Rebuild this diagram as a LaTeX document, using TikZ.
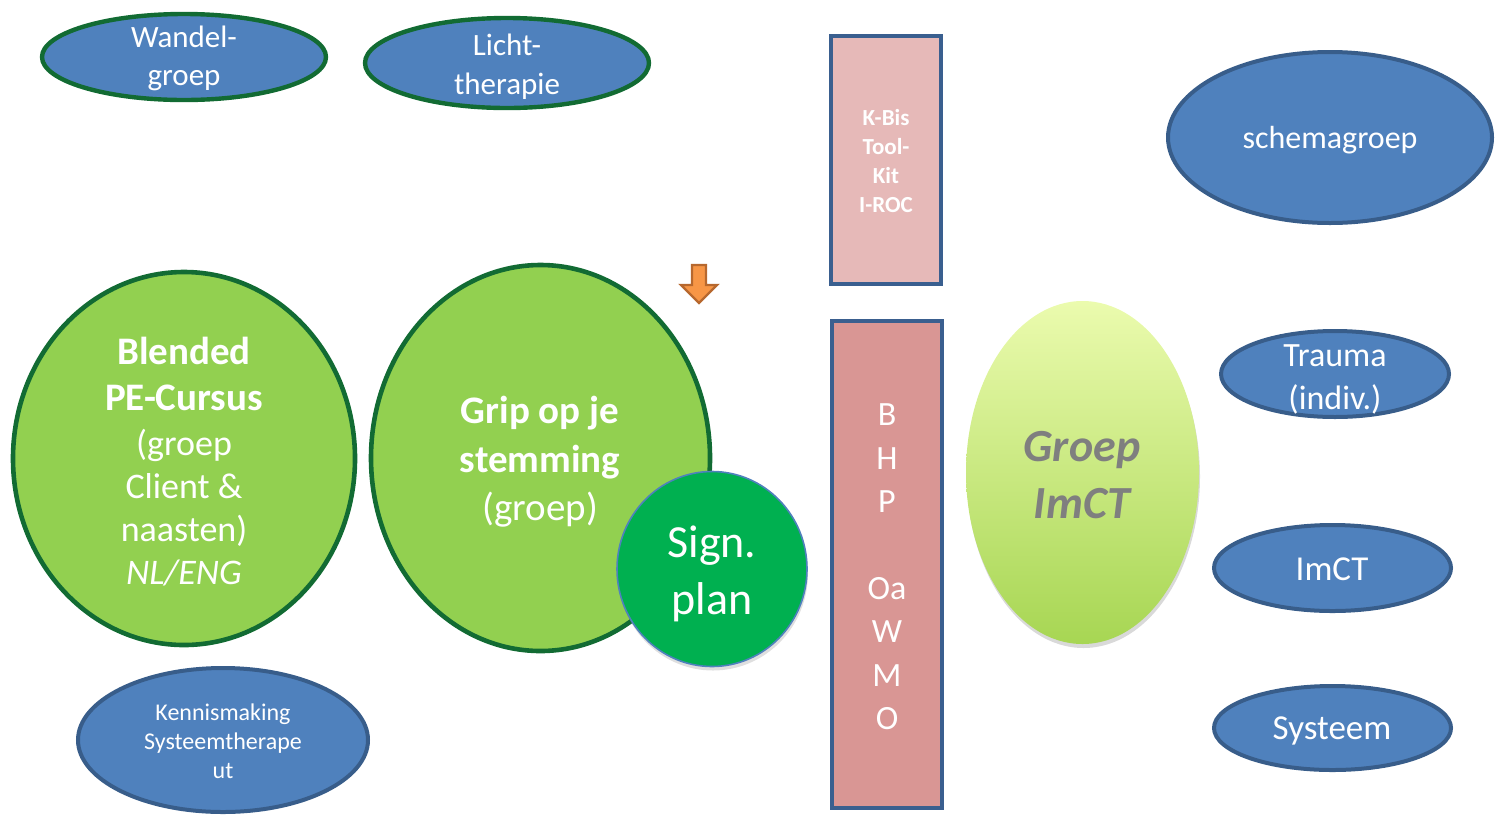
\documentclass[tikz,border=0pt]{standalone}
\usepackage{fontspec}
\setmainfont{Carlito}
\usetikzlibrary{shapes.geometric,shadows}
\definecolor{fillblue}{HTML}{4F81BD}
\definecolor{edgeblue}{HTML}{385D8A}
\definecolor{edgegreen}{HTML}{126B33}
\definecolor{lightgreen}{HTML}{92D050}
\definecolor{signgreen}{HTML}{00B050}
\definecolor{pinklight}{HTML}{E6B9B8}
\definecolor{pinkdark}{HTML}{D99694}
\definecolor{boxedge}{HTML}{3A5F8F}
\definecolor{arrowfill}{HTML}{F79646}
\definecolor{arrowedge}{HTML}{B7682E}
\definecolor{imcttop}{HTML}{EBFBAE}
\definecolor{imctbot}{HTML}{A7D653}
\definecolor{imcttext}{HTML}{7F7F7F}
\newcommand{\fsz}[2]{\fontsize{#1}{#2}\selectfont}
\tikzset{
  blueell/.style={ellipse, draw=edgeblue, line width=2pt, fill=fillblue, inner sep=0pt},
  blueellg/.style={ellipse, draw=edgegreen, line width=2.2pt, fill=fillblue, inner sep=0pt},
  greenell/.style={ellipse, draw=edgegreen, line width=2.3pt, fill=lightgreen, inner sep=0pt},
  pinkbox/.style={rectangle, draw=boxedge, line width=2pt, inner sep=0pt},
  wtxt/.style={text=white, align=center, inner sep=0pt},
}
\begin{document}
\begin{tikzpicture}[x=0.5pt, y=-0.5pt]
\useasboundingbox (0,0) rectangle (1498,815);

% top-left ellipses
\node[blueellg, minimum width=142pt, minimum height=43pt] (wandel) at (184,57) {};
\node[wtxt, font=\fsz{15.5}{19}] (wandelt) at (184,58) {Wandel-\\groep};
\node[blueellg, minimum width=142pt, minimum height=45pt] (licht) at (507,63) {};
\node[wtxt, font=\fsz{15.5}{19.5}] (lichtt) at (507,67) {Licht-\\therapie};

% K-Bis box
\node[pinkbox, fill=pinklight, minimum width=55pt, minimum height=124pt] (kbis) at (886,160) {};
\node[wtxt, font=\bfseries\fsz{11.5}{14.5}] (kbist) at (886,161) {K-Bis\\Tool-\\Kit\\I-ROC};

% schemagroep
\node[blueell, minimum width=162pt, minimum height=85.5pt] (schema) at (1330,137.5) {};
\node[wtxt, font=\fsz{16}{19}] (schemat) at (1330,140) {schemagroep};

% orange arrow
\draw[fill=arrowfill, draw=arrowedge, line width=1.2pt, line join=miter]
  (692,265) -- (706,265) -- (706,285) -- (717,285) -- (699,303) -- (681,285) -- (692,285) -- cycle;

% Blended PE-Cursus
\node[greenell, minimum width=171pt, minimum height=186.5pt] (blended) at (184,458.5) {};
\node[wtxt, font=\fsz{18}{21.5}] (blendedt) at (184,462) {{\bfseries\fontsize{19.5}{22}\selectfont Blended}\\[1.5pt]{\bfseries\fontsize{19.5}{22}\selectfont PE-Cursus}\\[1pt](groep\\Client \&\\naasten)\\\textit{NL/ENG}};

% Grip op je stemming
\node[greenell, minimum width=169.5pt, minimum height=193pt] (grip) at (540.5,458) {};
\node[wtxt, font=\fsz{19.5}{24.2}] (gript) at (540,462) {\textbf{Grip op je}\\\textbf{stemming}\\(groep)};

% Sign. plan
\node[ellipse, fill=signgreen, draw=fillblue, line width=0.8pt, minimum width=95pt, minimum height=97.5pt, inner sep=0pt,
      drop shadow={opacity=0.25, shadow xshift=0.5pt, shadow yshift=-2pt}] (sign) at (712,569) {};
\node[wtxt, font=\fsz{23}{28.5}] (signt) at (712,574) {Sign.\\plan};

% BHP box
\node[pinkbox, fill=pinkdark, minimum width=55pt, minimum height=243.5pt] (bhp) at (887,564.5) {};
\node[wtxt, font=\fsz{17}{21.7}] (bhpt) at (887,567) {B\\H\\P\\\mbox{}\\Oa\\W\\M\\O};

% Groep ImCT
\node[ellipse, top color=imcttop, bottom color=imctbot, draw=none, minimum width=116.5pt, minimum height=171.5pt, inner sep=0pt,
      drop shadow={opacity=0.3, shadow xshift=0.5pt, shadow yshift=-2pt}] (groep) at (1082.5,472.5) {};
\node[text=imcttext, align=center, inner sep=0pt, font=\bfseries\itshape\fsz{23}{28.5}] (groept) at (1082,475) {Groep\\ImCT};

% right ellipses
\node[blueell, minimum width=114pt, minimum height=43pt] (trauma) at (1335,374) {};
\node[wtxt, font=\fsz{17}{21.5}] (traumat) at (1335,379) {Trauma\\(indiv.)};
\node[blueell, minimum width=118.5pt, minimum height=43pt] (imct) at (1332.5,568) {};
\node[wtxt, font=\fsz{17.5}{21}] (imctt) at (1332,569) {ImCT};
\node[blueell, minimum width=118.5pt, minimum height=42pt] (systeem) at (1332.5,728) {};
\node[wtxt, font=\fsz{17.5}{21}] (systeemt) at (1332,731) {Systeem};

% Kennismaking
\node[blueell, minimum width=145pt, minimum height=72pt] (kennis) at (223,740) {};
\node[wtxt, font=\fsz{12}{14.5}] (kennist) at (223,741) {Kennismaking\\Systeemtherape\\ut};
\end{tikzpicture}
\end{document}
